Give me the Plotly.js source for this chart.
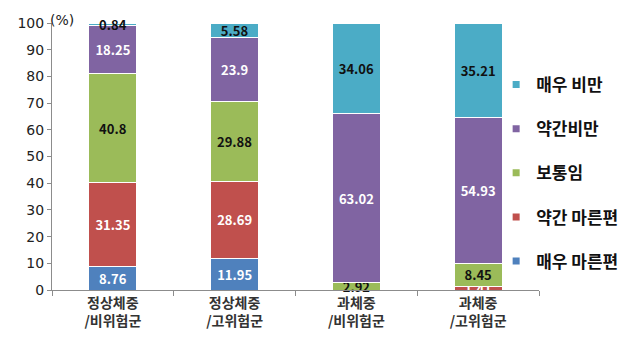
<!DOCTYPE html>
<html>
<head>
<meta charset="utf-8">
<script src="https://cdn.plot.ly/plotly-3.0.1.min.js"></script>
<style>html,body{margin:0;padding:0;background:#fff;}#chart{width:643px;height:351px;}</style>
</head>
<body>
<div id="chart"></div>
<script>
var categories = ['정상체중<br>/비위험군', '정상체중<br>/고위험군', '과체중<br>/비위험군', '과체중<br>/고위험군'];
var seriesNames = ['매우 마른편', '약간 마른편', '보통임', '약간비만', '매우 비만'];
var veryThin = [8.76, 11.95, 0, 0];
var slightlyThin = [31.35, 28.69, 0, 1.41];
var normal = [40.8, 29.88, 2.92, 8.45];
var slightlyObese = [18.25, 23.9, 63.02, 54.93];
var veryObese = [0.84, 5.58, 34.06, 35.21];
var colors = ['#4F81BD', '#C0504D', '#9BBB59', '#8064A2', '#4BACC6'];
var labelColors = ['#ffffff', '#ffffff', '#111111', '#ffffff', '#111111'];
var yTicks = [0, 10, 20, 30, 40, 50, 60, 70, 80, 90, 100];

var allSeries = [veryThin, slightlyThin, normal, slightlyObese, veryObese];
var traces = [];
allSeries.forEach(function (vals, i) {
  traces.push({
    type: 'bar',
    name: seriesNames[i],
    x: categories,
    y: vals,
    width: 0.395,
    marker: {color: colors[i], line: {color: '#ffffff', width: 1}},
    text: vals.map(function (v) { return v > 0 ? String(v) : ''; }),
    textposition: 'inside',
    insidetextanchor: 'middle',
    textangle: 0,
    constraintext: 'none',
    cliponaxis: false,
    textfont: {family: 'Noto Sans CJK KR, sans-serif', size: 13, color: labelColors[i], weight: 'bold'},
    hoverinfo: 'none',
    showlegend: false
  });
});
for (var i = allSeries.length - 1; i >= 0; i--) {
  traces.push({
    type: 'scatter',
    mode: 'markers',
    name: seriesNames[i],
    x: [null],
    y: [null],
    legendgroup: 'g' + i,
    marker: {symbol: 'square', size: 7, color: colors[i]},
    hoverinfo: 'none'
  });
}

var layout = {
  width: 643,
  height: 351,
  margin: {l: 52, r: 104, t: 23, b: 61},
  paper_bgcolor: '#ffffff',
  plot_bgcolor: '#ffffff',
  barmode: 'stack',
  showlegend: true,
  legend: {
    x: 0.912, y: 0.835, xanchor: 'left', yanchor: 'top',
    traceorder: 'grouped',
    tracegroupgap: 19,
    bgcolor: 'rgba(0,0,0,0)',
    font: {family: 'Noto Sans CJK KR, sans-serif', size: 17, color: '#111111', weight: 'bold'},
    itemwidth: 30
  },
  xaxis: {
    type: 'category',
    showline: true, linecolor: '#8c8c8c', linewidth: 1,
    ticks: 'outside', tickson: 'boundaries', ticklen: 5, tickcolor: '#8c8c8c',
    showgrid: false, zeroline: false,
    tickfont: {family: 'Noto Sans CJK KR, sans-serif', size: 14, color: '#333333', weight: 'bold'}
  },
  yaxis: {
    range: [0, 100],
    tickvals: yTicks,
    ticktext: yTicks.map(String),
    showline: true, linecolor: '#8c8c8c', linewidth: 1,
    ticks: 'outside', ticklen: 4, tickcolor: '#8c8c8c',
    showgrid: false, zeroline: false,
    tickfont: {family: 'DejaVu Sans, sans-serif', size: 14, color: '#222222'}
  },
  annotations: [{
    text: '(%)', xref: 'paper', yref: 'paper', x: 0, y: 1,
    xanchor: 'left', yanchor: 'middle', xshift: -4, yshift: 3, showarrow: false,
    font: {family: 'DejaVu Sans, sans-serif', size: 14, color: '#222222'}
  }]
};

Plotly.newPlot('chart', traces, layout, {displayModeBar: false, staticPlot: true});
</script>
</body>
</html>
